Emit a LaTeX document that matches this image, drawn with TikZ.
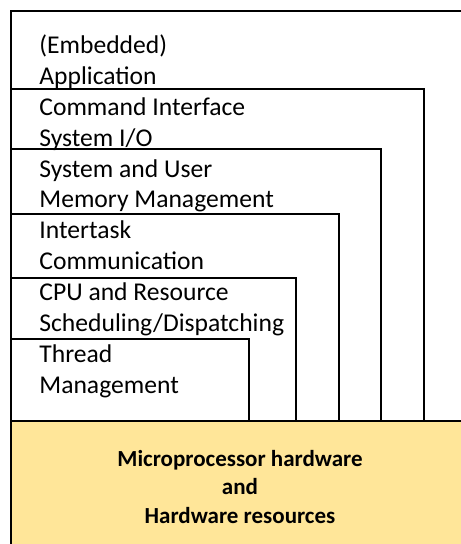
\documentclass[tikz,border=0pt]{standalone}
\usepackage{fontspec}
\setmainfont{Carlito}
\definecolor{hwyellow}{HTML}{FFE699}
\begin{document}
\begin{tikzpicture}[x=0.5pt, y=-0.5pt,
    layer/.style={line width=1.4pt, black},
    frame/.style={line width=0.8pt, black},
    layertext/.style={anchor=base west, inner sep=0pt, font=\fontsize{12.8}{15}\selectfont},
    hwtext/.style={anchor=base, inner sep=0pt, font=\fontsize{11.5}{14}\selectfont\bfseries}]
    % Page size
    \useasboundingbox (0,0) rectangle (460,544);
    % Hardware box (yellow)
    \fill[hwyellow] (11,421) rectangle (461,545);
    % Outer frame
    \draw[frame] (11,545) -- (11,11) -- (461,11);
    \draw[frame] (11,421) -- (461,421);
    % Nested layers (top edge and right edge)
    \foreach \y/\x in {89/424, 149/381, 214/339, 278/296, 339/249} {
      \draw[layer] (11,\y) -- (\x,\y) -- (\x,421);
    }
    % Layer names
    \foreach \i/\txt in {0/(Embedded), 1/Application, 2/Command Interface, 3/{System I/O},
        4/System and User, 5/Memory Management, 6/Intertask, 7/Communication,
        8/CPU and Resource, 9/{Scheduling/Dispatching}, 10/Thread, 11/Management} {
      \node[layertext] (name\i) at (39,53.5+30.9*\i) {\txt};
    }
    % Hardware text
    \node[hwtext] (hw1) at (240,466) {Microprocessor hardware};
    \node[hwtext] (hw2) at (240,494) {and};
    \node[hwtext] (hw3) at (240,523) {Hardware resources};
\end{tikzpicture}
\end{document}
